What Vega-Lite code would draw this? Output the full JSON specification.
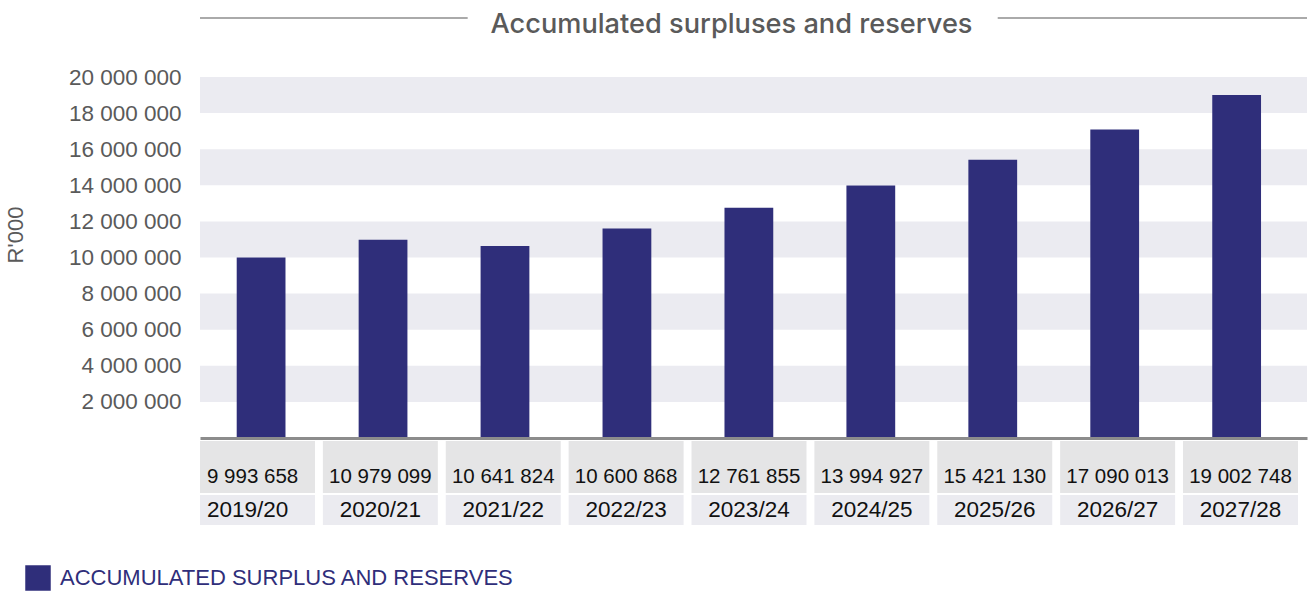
{
  "$schema": "https://vega.github.io/schema/vega-lite/v6.json",
  "background": "white",
  "padding": {"left": 3, "top": 0, "right": 0, "bottom": 0},
  "datasets": {
    "acc": [
      {"period": "2019/20", "reported": 9993658, "bar": 9993658},
      {"period": "2020/21", "reported": 10979099, "bar": 10979099},
      {"period": "2021/22", "reported": 10641824, "bar": 10641824},
      {"period": "2022/23", "reported": 10600868, "bar": 11600868},
      {"period": "2023/24", "reported": 12761855, "bar": 12761855},
      {"period": "2024/25", "reported": 13994927, "bar": 13994927},
      {"period": "2025/26", "reported": 15421130, "bar": 15421130},
      {"period": "2026/27", "reported": 17090013, "bar": 17090013},
      {"period": "2027/28", "reported": 19002748, "bar": 19002748}
    ],
    "bands": [
      {"from": 2000000, "to": 4000000},
      {"from": 6000000, "to": 8000000},
      {"from": 10000000, "to": 12000000},
      {"from": 14000000, "to": 16000000},
      {"from": 18000000, "to": 20000000}
    ],
    "titleRules": [
      {"start": 0, "end": 0.2418},
      {"start": 0.7206, "end": 1}
    ],
    "titleText": [
      {"title": "Accumulated surpluses and reserves"}
    ]
  },
  "spacing": 3,
  "bounds": "flush",
  "vconcat": [
    {
      "width": 1107,
      "height": 73,
      "layer": [
        {
          "data": {"name": "titleRules"},
          "mark": {"type": "rule", "color": "#aaaaaa", "strokeWidth": 2},
          "encoding": {
            "x": {"field": "start", "type": "quantitative", "scale": {"domain": [0, 1]}, "axis": null},
            "x2": {"field": "end"},
            "y": {"datum": 0.767, "type": "quantitative", "scale": {"domain": [0, 1]}, "axis": null}
          }
        },
        {
          "data": {"name": "titleText"},
          "mark": {"type": "text", "fontSize": 27.2, "fontWeight": 500, "color": "#5a5a5a", "font": "Inter", "baseline": "alphabetic", "align": "center"},
          "encoding": {
            "x": {"datum": 0.4801, "type": "quantitative"},
            "y": {"datum": 0.566, "type": "quantitative"},
            "text": {"field": "title"}
          }
        }
      ]
    },
    {
      "width": 1107,
      "height": 361,
      "layer": [
        {
          "data": {"name": "bands"},
          "mark": {"type": "rect", "color": "#ebebf1"},
          "encoding": {
            "y": {
              "field": "from", "type": "quantitative",
              "scale": {"domain": [0, 20000000], "nice": false},
              "axis": {
                "title": "R'000", "values": [2000000, 4000000, 6000000, 8000000, 10000000, 12000000, 14000000, 16000000, 18000000, 20000000],
                "format": ",d", "grid": false, "domain": false, "ticks": false, "tickSize": 0,
                "labelPadding": 19, "labelFontSize": 22.5, "labelColor": "#5a5a5a", "labelFont": "Liberation Sans", "labelFlush": false,
                "titleFontSize": 22, "titleFont": "Liberation Sans", "titleFontWeight": "normal", "titleColor": "#5a5a5a",
                "titleX": -178, "titleY": 157.5, "titleBaseline": "alphabetic", "titleAngle": -90
              }
            },
            "y2": {"field": "to"}
          }
        },
        {
          "data": {"name": "acc"},
          "mark": {"type": "bar"},
          "encoding": {
            "x": {
              "field": "period", "type": "nominal", "sort": null,
              "scale": {"paddingInner": 0.6, "paddingOuter": 0.339, "align": 0.444},
              "axis": {"title": null, "labels": false, "ticks": false, "domain": true, "domainColor": "#8c8c8c", "domainWidth": 3, "grid": false, "zindex": 1}
            },
            "y": {
              "field": "bar", "type": "quantitative",
              "axis": {
                "title": "R'000", "values": [2000000, 4000000, 6000000, 8000000, 10000000, 12000000, 14000000, 16000000, 18000000, 20000000],
                "format": ",d", "grid": false, "domain": false, "ticks": false, "tickSize": 0,
                "labelPadding": 19, "labelFontSize": 22.5, "labelColor": "#5a5a5a", "labelFont": "Liberation Sans", "labelFlush": false,
                "titleFontSize": 22, "titleFont": "Liberation Sans", "titleFontWeight": "normal", "titleColor": "#5a5a5a",
                "titleX": -178, "titleY": 157.5, "titleBaseline": "alphabetic", "titleAngle": -90
              }
            },
            "color": {
              "datum": "ACCUMULATED SURPLUS AND RESERVES",
              "scale": {"range": ["#2f2e7a"]},
              "legend": {
                "title": null, "orient": "none", "legendX": -175, "legendY": 564,
                "symbolType": "square", "symbolSize": 650, "symbolStrokeWidth": 0, "symbolOpacity": 1,
                "labelFontSize": 22, "labelColor": "#2f2e7a", "labelFont": "Liberation Sans", "labelLimit": 0, "labelOffset": 9, "padding": 0
              }
            }
          }
        }
      ]
    },
    {
      "spacing": 2,
      "bounds": "flush",
      "vconcat": [
        {
          "width": 1098,
          "height": 52,
          "data": {"name": "acc"},
          "layer": [
            {
              "mark": {"type": "rect", "color": "#e5e5e6"},
              "encoding": {
                "x": {"field": "period", "type": "nominal", "sort": null, "scale": {"paddingInner": 0.0643, "paddingOuter": 0}, "axis": null}
              }
            },
            {
              "transform": [{"filter": "datum.period != '2019/20'"}],
              "mark": {"type": "text", "fontSize": 20.5, "font": "Liberation Sans", "color": "#111111", "baseline": "middle", "align": "center", "dy": 10},
              "encoding": {
                "x": {"field": "period", "type": "nominal", "sort": null},
                "text": {"field": "reported", "type": "quantitative", "format": ",d"}
              }
            },
            {
              "transform": [{"filter": "datum.period == '2019/20'"}],
              "mark": {"type": "text", "fontSize": 20.5, "font": "Liberation Sans", "color": "#111111", "baseline": "middle", "align": "left", "dx": 7, "dy": 10},
              "encoding": {
                "x": {"field": "period", "type": "nominal", "sort": null, "bandPosition": 0},
                "text": {"field": "reported", "type": "quantitative", "format": ",d"}
              }
            }
          ]
        },
        {
          "width": 1098,
          "height": 30,
          "data": {"name": "acc"},
          "layer": [
            {
              "mark": {"type": "rect", "color": "#ebebf0"},
              "encoding": {
                "x": {"field": "period", "type": "nominal", "sort": null, "scale": {"paddingInner": 0.0643, "paddingOuter": 0}, "axis": null}
              }
            },
            {
              "transform": [{"filter": "datum.period != '2019/20'"}],
              "mark": {"type": "text", "fontSize": 22.5, "font": "Liberation Sans", "color": "#111111", "baseline": "middle", "align": "center"},
              "encoding": {
                "x": {"field": "period", "type": "nominal", "sort": null},
                "text": {"field": "period"}
              }
            },
            {
              "transform": [{"filter": "datum.period == '2019/20'"}],
              "mark": {"type": "text", "fontSize": 22.5, "font": "Liberation Sans", "color": "#111111", "baseline": "middle", "align": "left", "dx": 7},
              "encoding": {
                "x": {"field": "period", "type": "nominal", "sort": null, "bandPosition": 0},
                "text": {"field": "period"}
              }
            }
          ]
        }
      ]
    }
  ],
  "config": {
    "font": "Liberation Sans",
    "view": {"stroke": "transparent"},
    "locale": {"number": {"decimal": ".", "thousands": " ", "grouping": [3], "currency": ["", ""]}}
  }
}
